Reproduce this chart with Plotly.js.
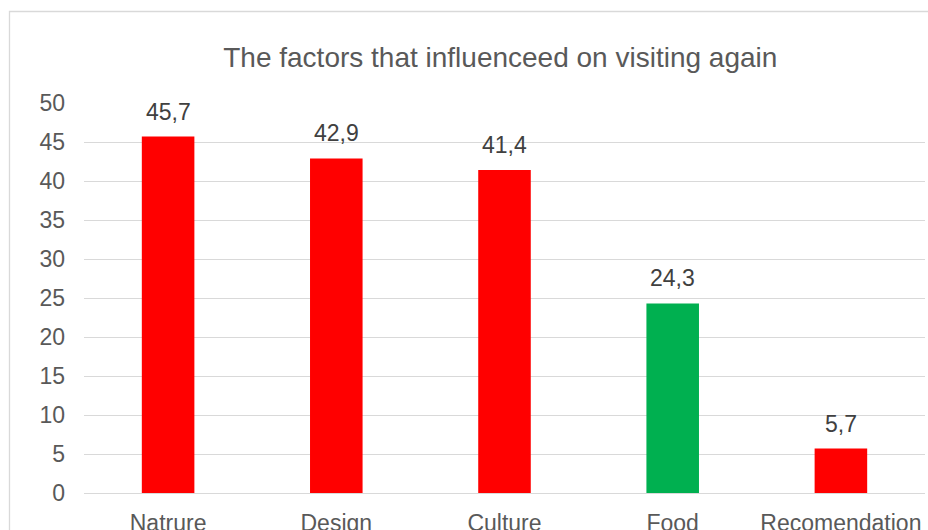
<!DOCTYPE html>
<html>
<head>
<meta charset="utf-8">
<script src="https://cdn.plot.ly/plotly-3.0.1.min.js"></script>
<style>
html,body{margin:0;padding:0;background:#fff;}
#chart{width:928px;height:530px;}
</style>
</head>
<body>
<div id="chart"></div>
<script>
const categories = ["Natrure", "Design", "Culture", "Food", "Recomendation"];
const values = [45.7, 42.9, 41.4, 24.3, 5.7];
const barColors = ["#FF0000", "#FF0000", "#FF0000", "#00B050", "#FF0000"];
const yTicks = [0, 5, 10, 15, 20, 25, 30, 35, 40, 45, 50];
const titleText = "The factors that influenceed on visiting again";

const fontFamily = "'Liberation Sans', Arial, sans-serif";

const trace = {
  type: "bar",
  x: categories,
  y: values,
  marker: {color: barColors, line: {width: 0}},
  hoverinfo: "none"
};

const annotations = categories.map((c, i) => ({
  x: c,
  y: values[i],
  xref: "x",
  yref: "y",
  text: values[i].toFixed(1).replace(".", ","),
  showarrow: false,
  yanchor: "bottom",
  yshift: 10,
  font: {family: fontFamily, size: 23, color: "#404040"}
}));

const layout = {
  width: 928,
  height: 530,
  margin: {l: 84, r: 3, t: 103, b: 37, pad: 0},
  paper_bgcolor: "#ffffff",
  plot_bgcolor: "#ffffff",
  showlegend: false,
  bargap: 0.6875,
  separators: ", ",
  title: {
    text: titleText,
    font: {family: fontFamily, size: 28, color: "#595959"},
    xref: "paper",
    x: 0.495,
    xanchor: "center",
    yref: "container",
    y: 1 - 57 / 530,
    yanchor: "middle"
  },
  xaxis: {
    type: "category",
    showgrid: false,
    showline: true,
    linecolor: "#d9d9d9",
    linewidth: 1,
    ticks: "",
    ticklabelstandoff: 9,
    tickfont: {family: fontFamily, size: 23, color: "#595959"},
    fixedrange: true
  },
  yaxis: {
    range: [0, 50],
    tickvals: yTicks,
    ticktext: yTicks.map(String),
    showgrid: true,
    gridcolor: "#d9d9d9",
    gridwidth: 1,
    zeroline: false,
    showline: false,
    ticks: "",
    ticklabelstandoff: 18,
    tickfont: {family: fontFamily, size: 23, color: "#595959"},
    fixedrange: true
  },
  annotations: annotations,
  shapes: [{
    type: "rect",
    xref: "paper",
    yref: "paper",
    x0: (9.5 - 84) / 841,
    x1: (940 - 84) / 841,
    y0: (493 - 545) / 390,
    y1: (493 - 11.5) / 390,
    line: {color: "#d9d9d9", width: 1.3},
    fillcolor: "rgba(0,0,0,0)",
    layer: "below"
  }]
};

Plotly.newPlot("chart", [trace], layout, {displayModeBar: false, staticPlot: true});
</script>
</body>
</html>
